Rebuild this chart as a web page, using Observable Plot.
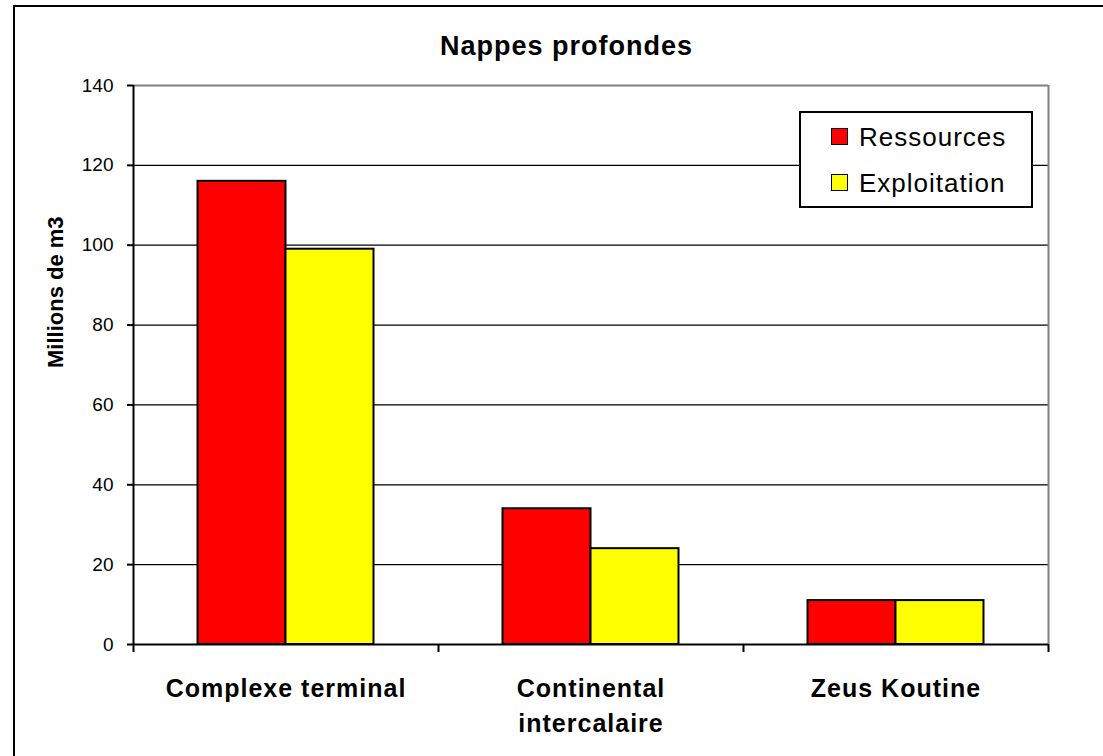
<!DOCTYPE html>
<html><head><meta charset="utf-8">
<script src="https://cdn.jsdelivr.net/npm/d3@7"></script>
<script src="https://cdn.jsdelivr.net/npm/@observablehq/plot@0.6"></script>
<style>
body{margin:0;background:#fff;font-family:"Liberation Sans",Arial,sans-serif;}
#wrap{position:relative;width:1103px;height:756px;overflow:hidden;background:#fff;}
#chart{position:absolute;left:0;top:0;}
#frame{position:absolute;left:13px;top:5px;width:1200px;height:900px;border:2px solid #000;box-sizing:border-box;pointer-events:none;}
#title{position:absolute;left:0;width:1133px;top:33px;text-align:center;font-weight:bold;font-size:27px;line-height:27px;letter-spacing:1px;color:#000;}
#legend{position:absolute;left:799px;top:111px;width:234px;height:97px;border:2px solid #000;box-sizing:border-box;background:#fff;}
.sw{position:absolute;left:831px;width:17px;height:17px;border:1.5px solid #000;box-sizing:border-box;}
.lt{position:absolute;left:859px;font-size:26px;line-height:26px;letter-spacing:1px;color:#000;white-space:nowrap;}
</style>
</head>
<body>
<div id="wrap">
  <div id="chart"></div>
  <div id="frame"></div>
  <div id="title">Nappes profondes</div>
  <div id="legend"></div>
</div>
<script>
const categories = ["Complexe terminal", "Continental intercalaire", "Zeus Koutine"];
const categoryLabels = ["Complexe terminal", "Continental\nintercalaire", "Zeus Koutine"];
const seriesNames = ["Ressources", "Exploitation"];
const ressources = [116, 34, 11];
const exploitation = [99, 24, 11];
const seriesColors = ["#FF0000", "#FFFF00"];
const yTicks = [0, 20, 40, 60, 80, 100, 120, 140];
const yTitle = "Millions de m3";

const table = categories.flatMap((c, i) => [
  {category: c, index: i, series: seriesNames[0], value: ressources[i], side: 0},
  {category: c, index: i, series: seriesNames[1], value: exploitation[i], side: 1}
]);
const barShare = 88 / 305; // bar width as a share of one category slot

const chart = Plot.plot({
  width: 1103, height: 756,
  marginLeft: 133, marginRight: 55, marginTop: 85, marginBottom: 112,
  style: {fontFamily: "'Liberation Sans', Arial, sans-serif", fontSize: "19px", background: "transparent", color: "#000"},
  x: {domain: [0, categories.length], axis: null},
  y: {domain: [0, 140], axis: null},
  color: {domain: seriesNames, range: seriesColors},
  marks: [
    Plot.ruleY(yTicks.filter(v => v > 0 && v < 140), {stroke: "#000", strokeWidth: 1.3}),
    Plot.ruleY([140], {stroke: "#808080", strokeWidth: 2}),
    Plot.ruleX([categories.length], {stroke: "#808080", strokeWidth: 2}),
    Plot.rect(table, {
      x1: d => d.index + 0.5 - (1 - d.side) * barShare,
      x2: d => d.index + 0.5 + d.side * barShare,
      y1: 0, y2: "value",
      fill: "series", stroke: "#000", strokeWidth: 2
    }),
    Plot.ruleX([0], {stroke: "#000", strokeWidth: 2}),
    Plot.ruleY([0], {stroke: "#000", strokeWidth: 2}),
    Plot.ruleX(d3.range(categories.length + 1), {y1: 0, y2: 0, insetBottom: -8, stroke: "#000", strokeWidth: 2}),
    Plot.axisY({ticks: yTicks, tickSize: 6, tickPadding: 14, fontSize: 19, label: null, strokeWidth: 2}),
    Plot.text(categoryLabels, {
      x: (d, i) => i + 0.5, frameAnchor: "bottom", text: d => d,
      lineAnchor: "top", lineHeight: 1.4, dy: 28,
      fontSize: 25, fontWeight: "bold", fill: "#000"
    }),
    Plot.text([yTitle], {frameAnchor: "left", rotate: -90, dx: -78, dy: 3, fontSize: 22, fontWeight: "bold", fill: "#000"})
  ]
});
// slightly wider letter spacing on the category labels, as in the original rendering
d3.select(chart).selectAll("text")
  .filter(function() { return categoryLabels.some(l => l.split("\n").includes(this.textContent)) || categoryLabels.includes(this.textContent.replace(/\s+/g, " ")); })
  .style("letter-spacing", "1px");
d3.select(chart).selectAll("text tspan").style("letter-spacing", "1px");
document.getElementById("chart").appendChild(chart);

// legend
const wrap = document.getElementById("wrap");
const swTops = [128, 174];
const txtTops = [124, 170];
seriesNames.forEach((s, i) => {
  const sw = document.createElement("div");
  sw.className = "sw";
  sw.style.top = swTops[i] + "px";
  sw.style.background = seriesColors[i];
  wrap.appendChild(sw);
  const t = document.createElement("div");
  t.className = "lt";
  t.style.top = txtTops[i] + "px";
  t.textContent = s;
  wrap.appendChild(t);
});
</script>
</body></html>
